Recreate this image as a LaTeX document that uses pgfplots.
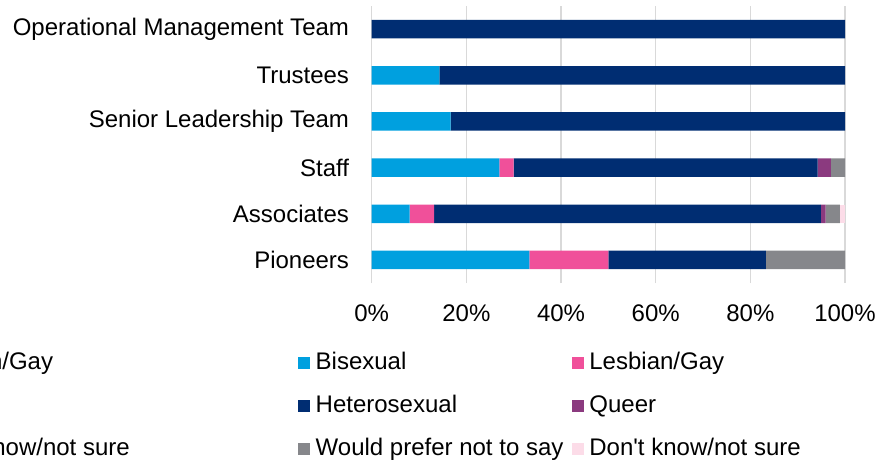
\documentclass[border=0pt]{standalone}
\usepackage{fontspec}
\setmainfont{Liberation Sans}
\usepackage{pgfplots}
\pgfplotsset{compat=1.18}
\definecolor{cbi}{HTML}{00A0DF}
\definecolor{cles}{HTML}{F0509A}
\definecolor{chet}{HTML}{002D72}
\definecolor{cqueer}{HTML}{8B3A7F}
\definecolor{cpref}{HTML}{86878B}
\definecolor{cdk}{HTML}{FCDCE8}
\definecolor{gridc}{HTML}{D9D9D9}
\newcommand{\fsz}{\fontsize{24}{28}\selectfont}
\begin{document}
\begin{tikzpicture}[font=\fsz]
\useasboundingbox (0,0) rectangle (889pt,459pt);
\begin{axis}[
  at={(371.7pt,176pt)}, anchor=south west,
  scale only axis, width=473.3pt, height=277pt,
  xbar stacked, bar width=18.5pt,
  xmin=0, xmax=100, ymin=-0.5, ymax=5.5,
  axis line style={draw=none},
  xmajorgrids, grid style={draw=gridc, line width=1.2pt},
  major tick length=0pt,
  xtick={0,20,40,60,80,100},
  xticklabels={0\%,20\%,40\%,60\%,80\%,100\%},
  ytick={0,1,2,3,4,5},
  yticklabels={Pioneers,Associates,Staff,Senior Leadership Team,Trustees,Operational Management Team},
  tick label style={font=\fsz},
  xticklabel style={inner sep=0pt, anchor=north, yshift=-21.5pt},
  yticklabel style={inner sep=0pt, anchor=east, xshift=-22.5pt},
  legend columns=2,
  legend cell align=left,
  legend image code/.code={\fill[#1] (0pt,-6pt) rectangle (12pt,6pt);},
  legend style={draw=none, fill=none, inner sep=0pt, outer sep=0pt,
    at={(-0.1557,-0.2484)}, anchor=north west, font=\fsz,
    column sep=5.7pt, row sep=21.1pt,
    /tikz/every even column/.append style={column sep=8.3pt},
    nodes={inner sep=0pt, text height=17.2pt, text depth=4.7pt}},
]
\addplot[fill=cbi, draw=none] coordinates {(33.3,0) (8.0,1) (27.0,2) (16.7,3) (14.3,4) (0,5)};
\addplot[fill=cles, draw=none] coordinates {(16.7,0) (5.2,1) (3.0,2) (0,3) (0,4) (0,5)};
\addplot[fill=chet, draw=none] coordinates {(33.3,0) (81.7,1) (64.2,2) (83.3,3) (85.7,4) (100,5)};
\addplot[fill=cqueer, draw=none] coordinates {(0,0) (1.0,1) (2.8,2) (0,3) (0,4) (0,5)};
\addplot[fill=cpref, draw=none] coordinates {(16.7,0) (3.0,1) (3.0,2) (0,3) (0,4) (0,5)};
\addplot[fill=cdk, draw=none] coordinates {(0,0) (1.1,1) (0,2) (0,3) (0,4) (0,5)};
\legend{Bisexual, Lesbian/Gay, Heterosexual, Queer, Would prefer not to say, Don\textquotesingle t know/not sure}
\end{axis}
\node[anchor=base east, inner sep=0pt] at (53.3pt,90pt) {Lesbian/Gay};
\node[anchor=base east, inner sep=0pt] at (130pt,4pt) {Don\textquotesingle t know/not sure};
\end{tikzpicture}
\end{document}
